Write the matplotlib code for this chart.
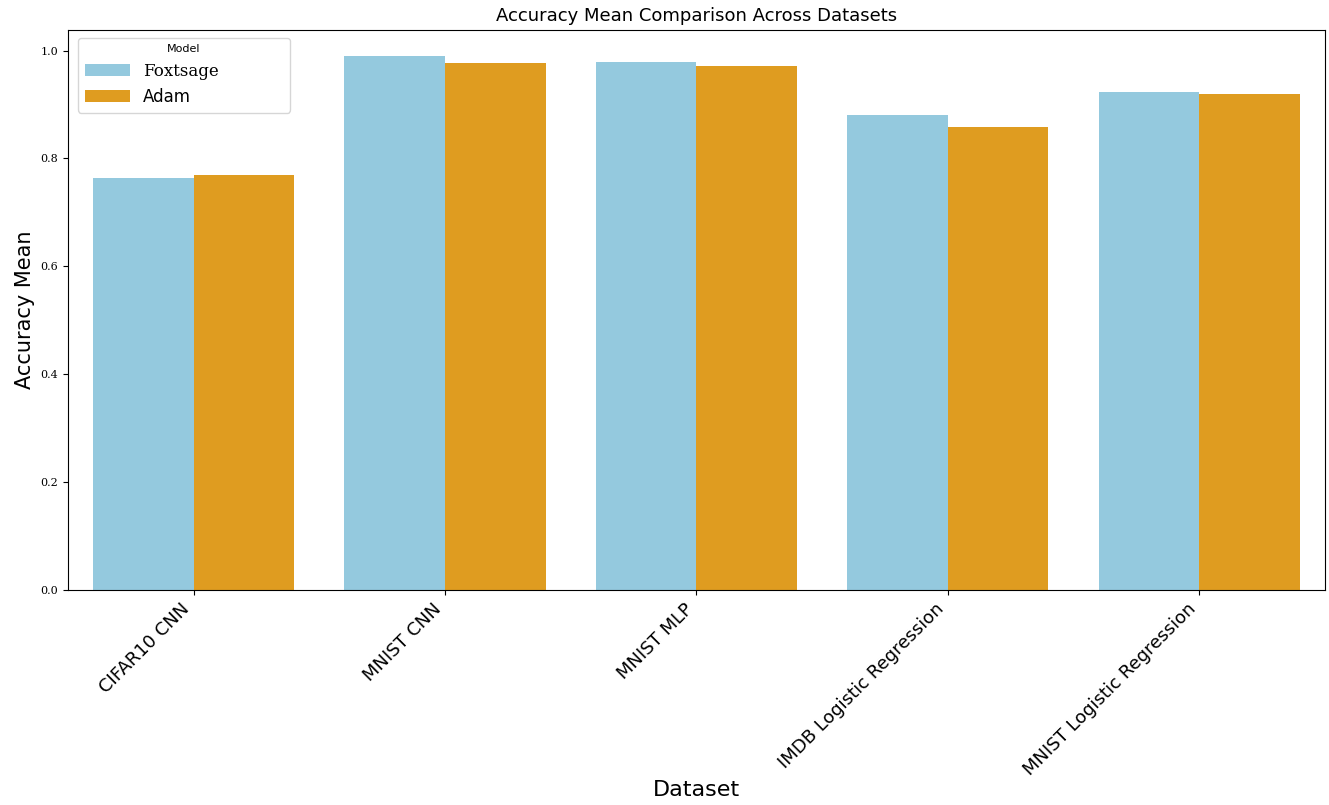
import matplotlib
matplotlib.use("Agg")
import matplotlib.pyplot as plt
import numpy as np
from matplotlib.colors import to_rgb
import colorsys

datasets = ["CIFAR10 CNN", "MNIST CNN", "MNIST MLP",
            "IMDB Logistic Regression", "MNIST Logistic Regression"]
models = ["Foxtsage", "Adam"]
foxtsage_acc = [0.763, 0.989, 0.978, 0.881, 0.923]
adam_acc = [0.769, 0.977, 0.971, 0.858, 0.920]
yticks = [0.0, 0.2, 0.4, 0.6, 0.8, 1.0]


def desat(c, s=0.75):
    # seaborn-style desaturation
    h, l, sat = colorsys.rgb_to_hls(*to_rgb(c))
    return colorsys.hls_to_rgb(h, l, sat * s)


colors = [desat("skyblue"), desat("orange")]

fig = plt.figure(figsize=(13.29, 8.05), dpi=100)
ax = fig.add_axes([0.051, 0.267, 0.946, 0.696])

x = np.arange(len(datasets))
w = 0.4
ax.bar(x - w / 2, foxtsage_acc, w, color=colors[0], label=models[0])
ax.bar(x + w / 2, adam_acc, w, color=colors[1], label=models[1])

ax.set_xlim(-0.5, len(datasets) - 0.5)
ax.set_ylim(0, max(foxtsage_acc + adam_acc) * 1.05)
ax.set_xticks(x)
ax.set_xticklabels(datasets, rotation=45, ha="right", fontsize=13)
ax.set_yticks(yticks)
ax.set_yticklabels([f"{v:.1f}" for v in yticks], family="DejaVu Serif", fontsize=8)

ax.set_title("Accuracy Mean Comparison Across Datasets", fontsize=13)
ax.set_xlabel("Dataset", fontsize=16, va="center")
ax.xaxis.set_label_coords(0.5, -0.357)
ax.set_ylabel("Accuracy Mean", fontsize=15)

leg = ax.legend(title="Model", loc="upper left", fontsize=12,
                title_fontsize=8, handlelength=2.7,
                bbox_to_anchor=(0.008, 0.986, 0.169, 0), mode="expand",
                borderaxespad=0)
leg.get_texts()[0].set_family("DejaVu Serif")

fig.savefig("out.png", dpi=100)
